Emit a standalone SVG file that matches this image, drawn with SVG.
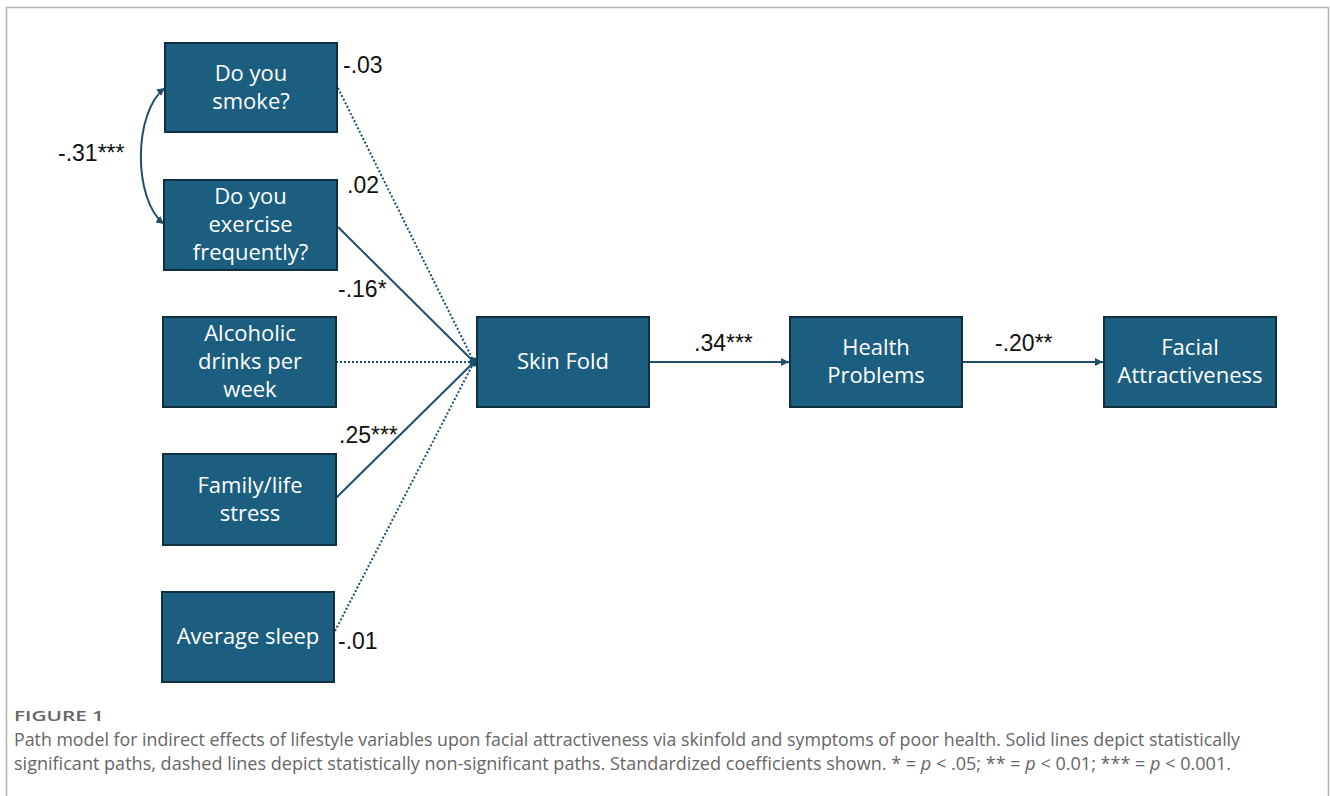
<svg xmlns="http://www.w3.org/2000/svg" width="1330" height="796" viewBox="0 0 1330 796">
<defs>
<style>
.box{fill:#1b5e80;stroke:#10303f;stroke-width:2}
.bt{font-family:"Open Sans","Noto Sans",sans-serif;font-size:22px;fill:#ffffff;text-anchor:middle}
.lab{font-family:"Liberation Sans",Arial,sans-serif;font-size:23px;fill:#111111}
.solid{stroke:#1b4f6c;stroke-width:2;fill:none}
.dot{stroke:#1b4f6c;stroke-width:2;fill:none;stroke-dasharray:2 2}
.cap{font-family:"Open Sans","Noto Sans",sans-serif;fill:#666666}
</style>
<marker id="ah" viewBox="0 0 10 10" refX="10" refY="5" markerWidth="8" markerHeight="8" markerUnits="userSpaceOnUse" orient="auto-start-reverse">
<path d="M0,0 L10,5 L0,10 Z" fill="#1b4f6c"/>
</marker>
</defs>
<rect x="0" y="0" width="1330" height="796" fill="#ffffff"/>
<path d="M6.5,800 V7.5 H1328.5 V800" fill="none" stroke="#b3b3b3" stroke-width="1.5"/>

<g id="connectors">
<path class="solid" d="M165,88 C133,112 133,200 164,224" marker-start="url(#ah)" marker-end="url(#ah)"/>
<line class="dot" x1="338" y1="88" x2="474" y2="362"/>
<line class="solid" x1="338" y1="227" x2="474" y2="362"/>
<line class="dot" x1="336" y1="362" x2="474" y2="362"/>
<line class="solid" x1="336" y1="498" x2="474" y2="362"/>
<line class="dot" x1="335" y1="631" x2="474" y2="362"/>
<circle cx="474" cy="362" r="4.5" fill="#1b4f6c"/>
<line class="solid" x1="649" y1="362" x2="789" y2="362" marker-end="url(#ah)"/>
<line class="solid" x1="962" y1="362" x2="1103" y2="362" marker-end="url(#ah)"/>
<text class="lab" x="343" y="73">-.03</text>
<text class="lab" x="347" y="193">.02</text>
<text class="lab" x="338" y="297">-.16*</text>
<text class="lab" x="339" y="443">.25***</text>
<text class="lab" x="338" y="649">-.01</text>
<text class="lab" x="58" y="161">-.31***</text>
<text class="lab" x="694" y="351">.34***</text>
<text class="lab" x="995" y="351">-.20**</text>
</g>

<g id="smoke">
<rect class="box" x="165" y="43" width="172" height="89"/>
<text class="bt" x="251" y="81">Do you</text>
<text class="bt" x="251" y="109">smoke?</text>
</g>
<g id="exercise">
<rect class="box" x="164" y="180" width="173" height="90"/>
<text class="bt" x="250.5" y="204">Do you</text>
<text class="bt" x="250.5" y="232">exercise</text>
<text class="bt" x="250.5" y="260">frequently?</text>
</g>
<g id="alcohol">
<rect class="box" x="163" y="317" width="173" height="90"/>
<text class="bt" x="250" y="341">Alcoholic</text>
<text class="bt" x="250" y="369">drinks per</text>
<text class="bt" x="250" y="397">week</text>
</g>
<g id="stress">
<rect class="box" x="163" y="454" width="173" height="91"/>
<text class="bt" x="250" y="493">Family/life</text>
<text class="bt" x="250" y="521">stress</text>
</g>
<g id="sleep">
<rect class="box" x="162" y="592" width="172" height="90"/>
<text class="bt" x="248" y="644">Average sleep</text>
</g>
<g id="skinfold">
<rect class="box" x="477" y="317" width="172" height="90"/>
<text class="bt" x="563" y="369">Skin Fold</text>
</g>
<g id="health">
<rect class="box" x="790" y="317" width="172" height="90"/>
<text class="bt" x="876" y="355">Health</text>
<text class="bt" x="876" y="383">Problems</text>
</g>
<g id="facial">
<rect class="box" x="1104" y="317" width="172" height="90"/>
<text class="bt" x="1190" y="355">Facial</text>
<text class="bt" x="1190" y="383">Attractiveness</text>
</g>

<g id="caption">
<text class="cap" x="14" y="721" font-size="14" font-weight="600" textLength="90" lengthAdjust="spacingAndGlyphs">FIGURE 1</text>
<text class="cap" x="14" y="746" font-size="17.6" textLength="1226" lengthAdjust="spacingAndGlyphs">Path model for indirect effects of lifestyle variables upon facial attractiveness via skinfold and symptoms of poor health. Solid lines depict statistically</text>
<text class="cap" x="14" y="770" font-size="17.6" textLength="1217" lengthAdjust="spacingAndGlyphs">significant paths, dashed lines depict statistically non-significant paths. Standardized coefficients shown. * = <tspan font-style="italic">p</tspan> &lt; .05; ** = <tspan font-style="italic">p</tspan> &lt; 0.01; *** = <tspan font-style="italic">p</tspan> &lt; 0.001.</text>
</g>
</svg>
